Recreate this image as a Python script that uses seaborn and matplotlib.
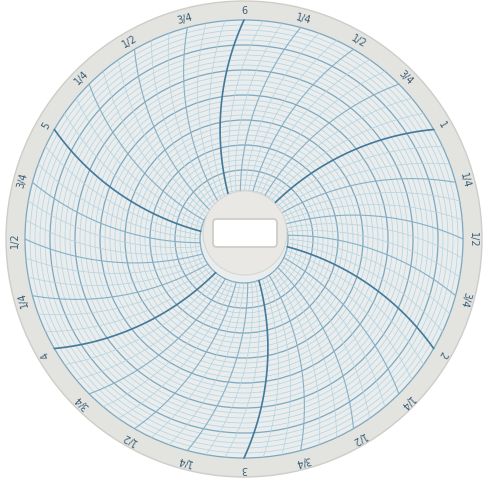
import numpy as np
import pandas as pd
import seaborn as sns
import matplotlib.pyplot as plt
from matplotlib.patches import Circle, FancyBboxPatch

sns.set_theme(style="white")
plt.rcParams['font.family'] = ['DejaVu Sans']

# chart data
edge_labels = ["6", "1/4", "1/2", "3/4", "1", "1/4", "1/2", "3/4",
               "2", "1/4", "1/2", "3/4", "3", "1/4", "1/2", "3/4",
               "4", "1/4", "1/2", "3/4", "5", "1/4", "1/2", "3/4"]
time_minutes = list(range(0, 360, 5))      # one time arc every 5 min
ring_values = list(range(0, 36))           # scale divisions
major_every = 5

# geometry of the paper disc (pixels)
cx, cy = 244, 240
r_paper = 238
r_out = 219
r_in = 44
r_hub = 42
arm = 1.2 * r_out


def to_xy(r, ang):
    a = np.radians(ang)
    return cx + r * np.sin(a), cy - r * np.cos(a)


fig = plt.figure(figsize=(4.88, 4.85), dpi=100)
ax = fig.add_axes([0, 0, 1, 1])
fig.patch.set_facecolor("white")

ax.add_patch(Circle((cx, cy), r_paper, facecolor="#e3e3e0", edgecolor="#cdcdca", lw=1, zorder=0))
ax.add_patch(Circle((cx, cy), r_out, facecolor="#e9eded", edgecolor="none", zorder=0))

# concentric scale rings
n = len(ring_values) - 1
for v in ring_values:
    r = r_in + (r_out - r_in) * v / n
    major = v % major_every == 0
    ax.add_patch(Circle((cx, cy), r, fill=False,
                        edgecolor="#7ca8c0" if major else "#b5d2df",
                        lw=0.9 if major else 0.5, zorder=1))

# time arcs (pen arcs)
rows = []
rr = np.linspace(r_in, r_out, 60)
for t in time_minutes:
    ang = t - np.degrees(np.arccos(rr / (2 * arm)) - np.arccos(r_out / (2 * arm)))
    x, y = to_xy(rr, ang)
    kind = "hour" if t % 60 == 0 else ("quarter" if t % 15 == 0 else "minor")
    for xi, yi in zip(x, y):
        rows.append((t, kind, xi, yi))
arcs = pd.DataFrame(rows, columns=["line", "kind", "x", "y"])

styles = {"minor": ("#b5d2df", 0.5), "quarter": ("#86b0c7", 0.8), "hour": ("#43799a", 1.2)}
for kind, (col, lw) in styles.items():
    sns.lineplot(data=arcs[arcs.kind == kind], x="x", y="y", units="line",
                 estimator=None, sort=False, color=col, lw=lw, ax=ax,
                 legend=False, zorder=2)
ax.set_xlim(0, 488)
ax.set_ylim(485, 0)
ax.set_aspect("equal")
ax.axis("off")

# hub and slot
ax.add_patch(Circle((cx + 1, cy - 6), r_hub, facecolor="#eae8e4", edgecolor="#d6d6d3", lw=0.8, zorder=3))
ax.add_patch(FancyBboxPatch((214, 221), 62, 26, boxstyle="round,pad=1,rounding_size=4",
                            facecolor="white", edgecolor="#cdcac4", lw=1.2, zorder=4))

# edge labels
for i, lab in enumerate(edge_labels):
    ang = i * 15
    x, y = to_xy(229, ang)
    ax.text(x, y, lab, rotation=-ang, rotation_mode="anchor", ha="center", va="center",
            fontsize=7, color="#3d5f76", zorder=5)

fig.savefig("out.png", dpi=100, facecolor="white")
